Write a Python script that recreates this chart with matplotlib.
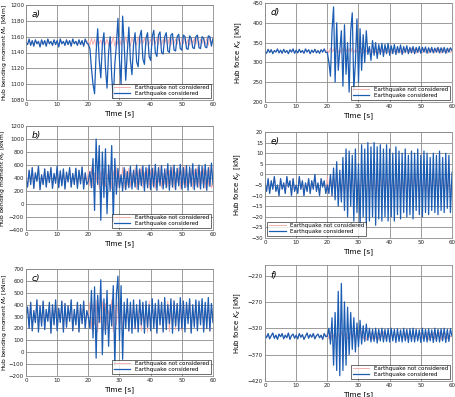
import numpy as np
import matplotlib
matplotlib.use("Agg")
import matplotlib.pyplot as plt

# time base, 0.5 s steps
t = np.arange(0, 60.5, 0.5)

# a) hub bending moment Mx [kNm]
a_calm = [1153, 1150, 1157, 1149, 1155, 1148, 1156, 1151, 1154, 1147,
          1156, 1150, 1155, 1148, 1157, 1151, 1154, 1149, 1156, 1150,
          1155, 1147, 1157, 1151, 1154, 1149, 1156, 1150, 1155, 1148,
          1157, 1151, 1154, 1149, 1156, 1150, 1155, 1148, 1157, 1152,
          1155, 1149, 1158, 1150, 1157, 1148, 1159, 1151, 1156, 1149,
          1160, 1150, 1157, 1149, 1158, 1151, 1160, 1148, 1157, 1150,
          1159, 1149, 1158, 1151, 1160, 1150, 1157, 1148, 1159, 1151,
          1158, 1149, 1160, 1150, 1157, 1151, 1159, 1149, 1158, 1150,
          1157, 1149, 1159, 1151, 1158, 1150, 1160, 1149, 1157, 1151,
          1159, 1150, 1158, 1149, 1160, 1151, 1157, 1150, 1159, 1149,
          1158, 1151, 1160, 1150, 1157, 1149, 1159, 1151, 1158, 1150,
          1160, 1149, 1157, 1151, 1159, 1150, 1158, 1149, 1160, 1151,
          1156]
a_quake = [1150, 1145, 1120, 1100, 1088, 1140, 1170, 1130, 1108, 1150,
           1165, 1120, 1095, 1140, 1160, 1110, 1082, 1125, 1150, 1183,
           1130, 1100, 1186, 1150, 1105, 1140, 1172, 1130, 1112, 1150,
           1165, 1128, 1122, 1160, 1168, 1132, 1125, 1158, 1165, 1135,
           1130, 1160, 1168, 1140, 1135, 1162, 1166, 1140, 1138, 1160,
           1165, 1142, 1140, 1162, 1164, 1143, 1142, 1160, 1163, 1145,
           1143, 1162, 1160, 1145, 1144, 1161, 1158, 1146, 1145, 1160,
           1162, 1146, 1145, 1160, 1158, 1147, 1146, 1161, 1160, 1148,
           1158]

# b) hub bending moment My [kNm]
b_calm = [400, 260, 520, 300, 560, 240, 480, 350, 580, 220,
          450, 300, 540, 260, 500, 330, 560, 240, 470, 320,
          580, 250, 510, 280, 540, 230, 490, 340, 560, 260,
          470, 300, 550, 240, 520, 310, 570, 230, 480, 300,
          520, 280, 560, 250, 480, 330, 570, 240, 500, 300,
          550, 260, 470, 340, 580, 230, 510, 290, 560, 250,
          490, 320, 570, 240, 530, 280, 550, 260, 480, 330,
          560, 230, 520, 300, 570, 250, 490, 310, 550, 240,
          530, 280, 560, 230, 500, 330, 580, 250, 470, 300,
          550, 260, 520, 290, 570, 240, 490, 330, 560, 230,
          510, 300, 580, 260, 480, 320, 550, 240, 530, 290,
          570, 250, 500, 310, 560, 240, 520, 280, 580, 250,
          300]
b_quake = [350, 500, 250, 700, -100, 1000, 300, 900, -250, 800,
           100, 850, -150, 600, 200, 900, -270, 700, 150, 550,
           250, 450, 200, 560, 220, 500, 250, 580, 230, 520,
           260, 600, 220, 540, 280, 590, 200, 560, 250, 600,
           220, 550, 260, 610, 210, 560, 280, 590, 230, 540,
           250, 620, 210, 570, 260, 600, 220, 550, 280, 610,
           230, 560, 250, 590, 210, 570, 270, 620, 220, 540,
           260, 600, 230, 580, 250, 610, 210, 560, 270, 630,
           300]

# c) hub bending moment Mz [kNm]
c_calm = [300, 380, 200, 420, 180, 350, 250, 440, 170, 390,
          220, 430, 190, 360, 260, 420, 160, 400, 230, 440,
          180, 370, 250, 430, 170, 410, 210, 390, 260, 440,
          180, 360, 230, 420, 170, 400, 240, 430, 200, 350,
          280, 420, 190, 400, 230, 440, 170, 380, 250, 430,
          180, 410, 210, 350, 280, 440, 170, 390, 230, 420,
          190, 440, 180, 370, 260, 420, 170, 400, 220, 430,
          190, 360, 270, 440, 180, 410, 230, 390, 170, 430,
          200, 420, 250, 380, 170, 440, 230, 400, 180, 420,
          260, 430, 170, 390, 220, 440, 190, 410, 250, 370,
          180, 430, 210, 400, 270, 440, 170, 380, 230, 420,
          190, 410, 250, 440, 180, 370, 240, 430, 170, 400,
          250]
c_quake = [300, 200, 520, 120, 550, -50, 480, 250, 610, -20,
           450, 150, 520, 50, 400, 220, 560, -110, 480, 640,
           100, 560, -60, 420, 200, 450, 180, 420, 160, 440,
           200, 400, 170, 440, 230, 420, 160, 430, 210, 400,
           180, 450, 200, 410, 160, 440, 230, 420, 170, 460,
           190, 400, 240, 450, 160, 430, 220, 410, 180, 460,
           200, 430, 170, 420, 240, 450, 160, 400, 210, 440,
           180, 430, 230, 450, 170, 420, 200, 460, 180, 410,
           250]

# d) hub force Kx [kN]
d_calm = [328, 323, 333, 325, 332, 322, 330, 326, 334, 324,
          331, 323, 333, 325, 330, 322, 332, 326, 334, 323,
          331, 324, 333, 325, 330, 323, 334, 326, 332, 322,
          331, 325, 333, 324, 330, 323, 332, 326, 334, 325,
          332, 324, 336, 326, 334, 323, 337, 325, 333, 324,
          336, 327, 334, 323, 335, 325, 337, 324, 333, 326,
          335, 324, 336, 323, 334, 326, 337, 325, 333, 324,
          336, 325, 334, 323, 335, 326, 333, 324, 336, 325,
          334, 323, 335, 326, 333, 324, 336, 325, 334, 323,
          335, 326, 333, 324, 336, 325, 334, 323, 335, 326,
          333, 324, 336, 325, 334, 323, 335, 326, 333, 324,
          336, 325, 334, 323, 335, 326, 333, 324, 336, 325,
          330]
d_quake = [325, 300, 265, 380, 440, 250, 400, 280, 330, 380,
           240, 395, 270, 350, 225, 380, 425, 230, 300, 410,
           250, 385, 280, 370, 300, 380, 320, 340, 305, 355,
           318, 350, 310, 345, 320, 348, 315, 345, 322, 348,
           318, 342, 322, 345, 320, 340, 324, 344, 320, 340,
           325, 342, 322, 338, 324, 340, 322, 338, 325, 340,
           323, 338, 326, 339, 323, 337, 325, 338, 324, 336,
           326, 338, 324, 337, 325, 338, 323, 336, 326, 337,
           330]

# e) hub force Ky [kN]
e_calm = [-4, -8, -2, -9, -3, -7, -1, -8, -5, -10,
          -2, -7, -4, -9, -1, -6, -3, -10, -2, -8,
          -5, -9, -1, -7, -3, -10, -4, -8, -2, -9,
          -3, -7, 0, -8, -4, -10, -2, -6, -3, -9,
          -1, -9, 0, -10, -2, -11, 1, -9, -1, -12,
          0, -10, 2, -11, -1, -9, 1, -12, 0, -10,
          -2, -11, 1, -9, 0, -12, -1, -10, 2, -11,
          0, -9, -1, -12, 1, -10, 0, -11, -2, -9,
          1, -12, 0, -10, -1, -11, 2, -9, 0, -12,
          -1, -10, 1, -11, 0, -9, 2, -12, -1, -10,
          0, -11, 1, -9, -1, -12, 0, -10, 2, -11,
          -1, -9, 0, -12, 1, -10, -1, -11, 0, -9,
          -3]
e_quake = [-5, -9, 0, -10, 3, -12, 6, -15, 2, -13,
           8, -17, 12, -20, 11, -15, 9, -22, 12, -18,
           5, -24, 14, -20, 12, -24, 15, -22, 13, -20,
           15, -24, 13, -21, 14, -22, 12, -20, 14, -22,
           12, -20, 10, -22, 13, -19, 11, -21, 10, -18,
           12, -20, 9, -19, 11, -21, 10, -17, 12, -19,
           9, -20, 11, -18, 10, -19, 8, -17, 10, -18,
           9, -19, 11, -17, 8, -18, 10, -16, 9, -18,
           1]

# f) hub force Kz [kN]
f_calm = [-332, -338, -330, -340, -334, -329, -339, -333, -341, -331,
          -336, -330, -340, -333, -338, -329, -341, -334, -331, -339,
          -333, -340, -330, -337, -332, -341, -335, -329, -339, -332,
          -337, -330, -340, -334, -331, -338, -333, -341, -330, -336,
          -330, -340, -327, -342, -333, -328, -341, -331, -339, -326,
          -343, -332, -329, -340, -334, -327, -342, -330, -338, -328,
          -341, -333, -326, -340, -331, -343, -329, -337, -327, -341,
          -332, -339, -328, -342, -330, -336, -326, -340, -333, -329,
          -342, -331, -338, -327, -341, -330, -336, -328, -343, -332,
          -329, -340, -334, -327, -341, -331, -338, -326, -342, -333,
          -329, -340, -331, -337, -327, -342, -330, -338, -328, -341,
          -332, -336, -327, -343, -330, -339, -329, -340, -331, -337,
          -333]
f_quake = [-335, -320, -350, -300, -390, -290, -400, -250, -410, -235,
           -400, -270, -390, -280, -370, -290, -360, -300, -365, -310,
           -355, -305, -350, -315, -345, -312, -343, -320, -346, -322,
           -345, -320, -348, -322, -344, -320, -346, -322, -345, -321,
           -346, -320, -344, -322, -347, -321, -345, -323, -346, -320,
           -344, -322, -347, -321, -345, -320, -346, -322, -344, -323,
           -347, -320, -345, -322, -346, -321, -344, -323, -347, -320,
           -345, -322, -346, -321, -344, -320, -347, -322, -345, -321,
           -335]

xticks = [0, 10, 20, 30, 40, 50, 60]

W, H = 456, 397
fig = plt.figure(figsize=(W / 100, H / 100), dpi=100)


def box(l, top, r, b):
    return [l / W, 1 - b / H, (r - l) / W, (b - top) / H]


# (tag, calm, quake, ylabel, ylim, yticks, pixel box, legend loc, label x, label size)
panels = [
    ("a)", a_calm, a_quake, "Hub bending moment $M_x$ [kNm]",
     (1080, 1200), range(1080, 1201, 20), (26, 5, 213, 100), "lower right", 9.5, 4.3),
    ("b)", b_calm, b_quake, "Hub bending moment $M_y$ [kNm]",
     (-400, 1200), range(-400, 1201, 200), (26, 126, 213, 230), "lower right", 9.5, 4.3),
    ("c)", c_calm, c_quake, "Hub bending moment $M_z$ [kNm]",
     (-200, 700), range(-200, 701, 100), (26, 269, 213, 376), "lower right", 9.5, 4.3),
    ("d)", d_calm, d_quake, "Hub force $K_x$ [kN]",
     (200, 450), range(200, 451, 50), (265, 3, 452, 102), "lower right", 244, 5.0),
    ("e)", e_calm, e_quake, "Hub force $K_y$ [kN]",
     (-30, 20), range(-30, 21, 5), (265, 132, 452, 238), "lower left", 244, 5.0),
    ("f)", f_calm, f_quake, "Hub force $K_z$ [kN]",
     (-420, -200), range(-420, -219, 50), (265, 265, 452, 381), "lower right", 243, 5.0),
]

for tag, calm, quake, ylab, ylim, yt, pbox, loc, lx, lsize in panels:
    ax = fig.add_axes(box(*pbox))
    calm = np.array(calm)
    full = np.concatenate([calm[:40], quake])
    ax.plot(t, calm, color="#f3a3a3", lw=0.6, label="Earthquake not considered")
    ax.plot(t, full, color="#1c5db4", lw=0.9, label="Earthquake considered")
    ax.set_xlim(0, 60)
    ax.set_ylim(*ylim)
    ax.set_xticks(xticks)
    ax.set_yticks(list(yt))
    ax.grid(True, color="#8c8c8c", lw=0.6)
    ax.set_axisbelow(True)
    for s in ax.spines.values():
        s.set_color("#8c8c8c")
        s.set_linewidth(0.6)
    ax.tick_params(length=0, labelsize=4.0, pad=1.5, colors="#222222")
    ax.set_xlabel("Time [s]", fontsize=5.3, labelpad=2)
    ax.set_ylabel(ylab, fontsize=lsize)
    ax.yaxis.set_label_coords((lx - pbox[0]) / (pbox[2] - pbox[0]), 0.5)
    ax.text(0.03, 0.95, tag, transform=ax.transAxes, fontsize=6.5,
            style="italic", va="top", ha="left")
    leg = ax.legend(loc=loc, fontsize=4.0, frameon=True, fancybox=False,
                    edgecolor="black", borderpad=0.3, labelspacing=0.15,
                    handlelength=3.0, borderaxespad=0.4)
    leg.get_frame().set_linewidth(0.5)

fig.savefig("out.png", dpi=100)
